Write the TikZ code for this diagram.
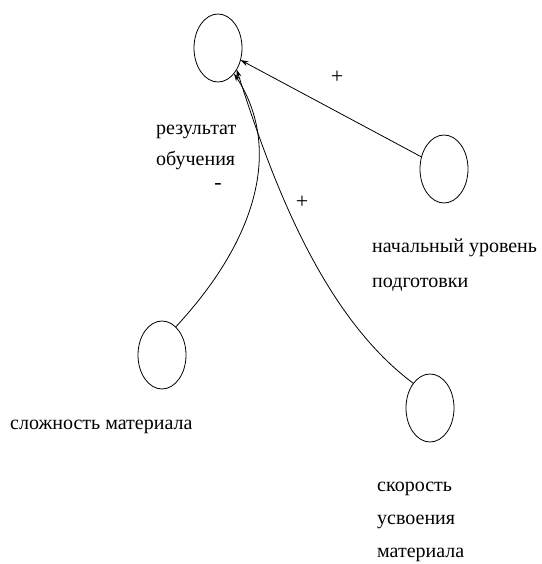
\documentclass[tikz,border=0pt]{standalone}
\usepackage{fontspec}
\setmainfont{Liberation Serif}
\usetikzlibrary{positioning,arrows.meta,shapes.geometric}

\begin{document}
\begin{tikzpicture}[x=1pt,y=1pt,
      fac/.style={ellipse, draw, line width=0.8pt, minimum width=48pt,
                  minimum height=68pt, inner sep=0pt, outer sep=0pt},
      lbl/.style={anchor=base west, align=left, inner sep=0pt,
                  font=\fontsize{20}{35}\selectfont},
      sgn/.style={font=\fontsize{22}{22}\selectfont, inner sep=0pt},
      link/.style={line width=0.8pt, -{Stealth[length=8pt,width=5pt]}}]
    \useasboundingbox (0,0) rectangle (541,564);
    \node[fac] (res)   at (218,516) {};
    \node[fac] (nach)  at (444,395) {};
    \node[fac] (slozh) at (162,209) {};
    \node[fac] (skor)  at (430,156) {};

    \node[lbl] (resT)   at (156,398) {результат\\[-4pt]обучения};
    \node[lbl] (nachT)  at (372,276) {начальный уровень\\подготовки};
    \node[lbl] (slozhT) at (10,134)  {сложность материала};
    \node[lbl] (skorT)  at (377,6)   {скорость\\[-2pt]усвоения\\[-2pt]материала};

    \draw[link] (nach) -- (res);
    \draw[link] (slozh.64) .. controls (262,330) and (280,420) .. (res.-58);
    \draw[link] (skor.124) .. controls (320,250) and (270,390) .. (res.-49);

    \node[sgn] (p1) at (337,487) {+};
    \node[sgn] (m1) at (218,377) {-};
    \node[sgn] (p2) at (302,362) {+};
  \end{tikzpicture}
\end{document}
